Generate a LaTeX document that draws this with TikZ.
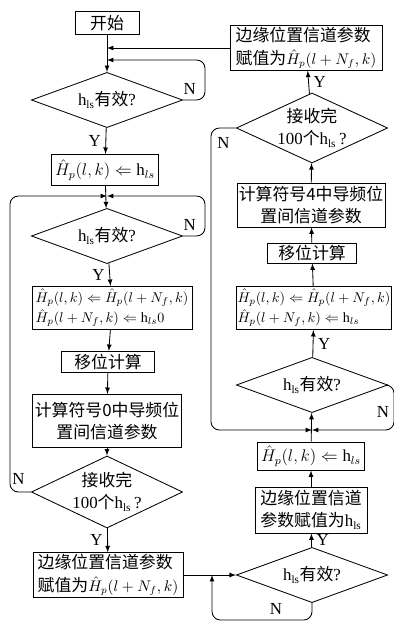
\documentclass[tikz,border=0pt]{standalone}
\usepackage{fontspec}
\usepackage{amsmath}
\setmainfont{Liberation Serif}
\newfontfamily\cjk{Noto Sans CJK SC}
\usetikzlibrary{shapes.geometric, arrows, positioning, calc}

\newcommand{\hls}{h\textsubscript{ls}}

\begin{document}
\begin{tikzpicture}[x=0.025cm, y=-0.025cm, line width=0.6pt, font=\fontsize{12}{15.5}\selectfont]
    \tikzstyle{procbox} = [rectangle, draw=black, align=center, inner sep=1pt]
    \tikzstyle{decision} = [diamond, draw=black, align=center, aspect=2.2, inner sep=-3pt, minimum width=3.78cm, minimum height=1.38cm]
    \tikzstyle{mathline} = [font=\fontsize{10}{14.5}\selectfont, align=left]
    \tikzstyle{arrow} = [->, >=latex]
    \tikzstyle{loopline} = [arrow, rounded corners=6pt]

    \useasboundingbox (0,0) rectangle (394,624);

    % left column
    \node[procbox, minimum width=1.6cm, minimum height=0.58cm] (start) at (107,23) {\cjk 开始};
    \node[decision] (d1) at (107,100) {\hls{\cjk 有效}?};
    \node[procbox, minimum width=2.68cm, minimum height=0.78cm] (b2) at (105,170) {$\hat{H}_p(l,k) \Leftarrow \mathrm{h}_{ls}$};
    \node[decision] (d2) at (107,236) {\hls{\cjk 有效}?};
    \node[procbox, mathline, minimum width=4cm, minimum height=1.08cm] (b3) at (112,308)
        {$\hat{H}_p(l,k) \Leftarrow \hat{H}_p(l+N_f,k)$\\$\hat{H}_p(l+N_f,k) \Leftarrow \mathrm{h}_{ls}0$};
    \node[procbox, minimum width=2.33cm, minimum height=0.53cm] (b4) at (108,362) {\cjk 移位计算};
    \node[procbox, minimum width=3.73cm, minimum height=1.33cm] (b5) at (107,421) {\cjk 计算符号0中导频位\\\cjk 置间信道参数};
    \node[decision, minimum height=1.8cm] (d3) at (107,492) {{\cjk 接收完}\\100{\cjk 个}\hls\,?};
    \node[procbox, align=left, font=\fontsize{12}{16.5}\selectfont, minimum width=3.75cm, minimum height=1.1cm] (b6) at (108,575)
        {{\cjk 边缘位置信道参数}\\{\cjk 赋值为}{\fontsize{10.5}{16.5}\selectfont$\hat{H}_p(l+N_f,k)$}};

    % right column
    \node[decision] (d4) at (312,575) {\hls{\cjk 有效}?};
    \node[procbox, minimum width=2.8cm, minimum height=1.15cm] (b7) at (311,510) {\cjk 边缘位置信道\\{\cjk 参数赋值为}\hls};
    \node[procbox, minimum width=2.68cm, minimum height=0.7cm] (b8) at (311,456) {$\hat{H}_p(l,k) \Leftarrow \mathrm{h}_{ls}$};
    \node[decision] (d5) at (312,385) {\hls{\cjk 有效}?};
    \node[procbox, mathline, minimum width=3.88cm, minimum height=1.08cm] (b9) at (314,308)
        {$\hat{H}_p(l,k) \Leftarrow \hat{H}_p(l+N_f,k)$\\$\hat{H}_p(l+N_f,k) \Leftarrow \mathrm{h}_{ls}$};
    \node[procbox, minimum width=2.23cm, minimum height=0.5cm] (b10) at (312,253) {\cjk 移位计算};
    \node[procbox, minimum width=3.7cm, minimum height=1.1cm] (b11) at (311,205) {\cjk 计算符号4中导频位\\\cjk 置间信道参数};
    \node[decision, minimum height=1.75cm] (d6) at (312,128) {{\cjk 接收完}\\100{\cjk 个}\hls\,?};
    \node[procbox, align=left, font=\fontsize{12}{16.5}\selectfont, minimum width=3.8cm, minimum height=1.1cm] (b12) at (306,48)
        {{\cjk 边缘位置信道参数}\\{\cjk 赋值为}{\fontsize{10.5}{16.5}\selectfont$\hat{H}_p(l+N_f,k)$}};

    % merge points
    \coordinate (j1) at (107,60);
    \coordinate (j2) at (107,196);
    \coordinate (j4) at (212,575);
    \coordinate (j5) at (312,430);

    % left flow
    \draw[arrow] (start) -- (d1);
    \draw[arrow] (b12.west) -- (b12.west -| start.south);
    \draw[loopline] (d1.east) -- node[above, pos=0.3] {N} ++(22,0) |- (j1);
    \draw[arrow] (d1) -- node[left] {Y} (b2);
    \draw[arrow] (b2) -- (d2);
    \draw[loopline] (d2.east) -- node[above, pos=0.3] {N} ++(22,0) |- (j2);
    \draw[arrow] (d2) -- node[left] {Y} (b3);
    \draw[arrow] (b3) -- (b4);
    \draw[arrow] (b4) -- (b5);
    \draw[arrow] (b5) -- (d3);
    \draw[loopline] (d3.west) -- node[above=2pt, pos=0.6] {N} ++(-21,0) |- (j2);
    \draw[arrow] (d3) -- node[left] {Y} (b6);
    \draw[arrow] (b6.east) -- (d4.west);

    % right flow
    \draw[loopline] (d4.south) -- ++(0,17) -| node[above, pos=0.18] {N} (j4);
    \draw[arrow] (d4) -- node[right] {Y} (b7);
    \draw[arrow] (b7) -- (b8);
    \draw[arrow] (b8) -- (d5);
    \draw[loopline] (d5.east) -- ++(6,0) |- node[left, pos=0.3] {N} (j5);
    \draw[arrow] (d5) -- node[right] {Y} (b9);
    \draw[arrow] (b9) -- (b10);
    \draw[arrow] (b10) -- (b11);
    \draw[arrow] (b11) -- (d6);
    \draw[loopline] (d6.west) -- node[below=3pt] {N} ++(-25,0) |- (j5);
    \draw[arrow] (d6) -- node[right] {Y} (b12);
\end{tikzpicture}
\end{document}
